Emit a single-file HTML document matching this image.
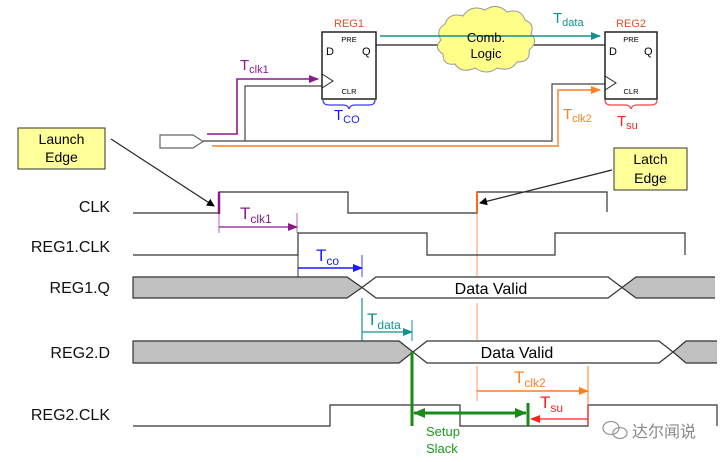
<!DOCTYPE html>
<html><head><meta charset="utf-8"><style>
html,body{margin:0;padding:0;background:#fff;}
svg{display:block;font-family:"Liberation Sans",Arial,sans-serif;}
</style></head><body>
<svg width="728" height="462" viewBox="0 0 728 462" xmlns="http://www.w3.org/2000/svg">
<defs>
<marker id="ab" markerWidth="8" markerHeight="8" refX="7" refY="4" orient="auto" markerUnits="userSpaceOnUse"><path d="M0,0 L8,4 L0,8 z" fill="#000"/></marker>
<marker id="ap" markerWidth="10" markerHeight="8" refX="9" refY="4" orient="auto" markerUnits="userSpaceOnUse"><path d="M0,0 L10,4 L0,8 z" fill="#8b1a8b"/></marker>
<marker id="at" markerWidth="10" markerHeight="8" refX="9" refY="4" orient="auto" markerUnits="userSpaceOnUse"><path d="M0,0 L10,4 L0,8 z" fill="#14918f"/></marker>
<marker id="ao" markerWidth="10" markerHeight="8" refX="9" refY="4" orient="auto" markerUnits="userSpaceOnUse"><path d="M0,0 L10,4 L0,8 z" fill="#ff7f1e"/></marker>
<marker id="ab2" markerWidth="10" markerHeight="8" refX="9" refY="4" orient="auto" markerUnits="userSpaceOnUse"><path d="M0,0 L10,4 L0,8 z" fill="#1a1aff"/></marker>
<marker id="ar" markerWidth="10" markerHeight="8" refX="9" refY="4" orient="auto" markerUnits="userSpaceOnUse"><path d="M0,0 L10,4 L0,8 z" fill="#ff2020"/></marker>
<marker id="ag" markerWidth="12" markerHeight="10" refX="11" refY="5" orient="auto" markerUnits="userSpaceOnUse"><path d="M0,0 L12,5 L0,10 z" fill="#1a8a1a"/></marker>
</defs>

<!-- circuit -->
<path d="M160,135 H193 L203,141.5 L193,148 H160 Z" fill="#fff" stroke="#666" stroke-width="1.2"/>
<polyline points="207,134 237,134 237,79 318,79" fill="none" stroke="#8b1a8b" stroke-width="1.6" marker-end="url(#ap)"/>
<polyline points="203,141 552,141 552,84 605,84" fill="none" stroke="#444" stroke-width="1.2"/>
<polyline points="245,141 245,86 322,86" fill="none" stroke="#444" stroke-width="1.2"/>
<polyline points="212,146 558,146 558,90 600,90" fill="none" stroke="#ff7f1e" stroke-width="1.4" marker-end="url(#ao)"/>

<rect x="322" y="32" width="54" height="67" fill="#fff" stroke="#222" stroke-width="1.5"/>
<polyline points="322,74 333,81 322,88" fill="none" stroke="#222" stroke-width="1"/>
<text x="349" y="27" font-size="11" fill="#e0502a" text-anchor="middle">REG1</text>
<text x="349" y="42" font-size="7.5" text-anchor="middle">PRE</text>
<text x="326" y="55" font-size="11">D</text>
<text x="362" y="55" font-size="11">Q</text>
<text x="349" y="94" font-size="7.5" text-anchor="middle">CLR</text>
<path d="M323,100 q0,5 6,5 h14 q5,0 6,4 q1,-4 6,-4 h14 q6,0 6,-5" fill="none" stroke="#3a3aff" stroke-width="1.2"/>
<text x="334" y="120" font-size="15" fill="#1a1aff">T<tspan font-size="11" dy="3">CO</tspan></text>

<rect x="605" y="32" width="52" height="67" fill="#fff" stroke="#222" stroke-width="1.5"/>
<polyline points="605,76 616,83 605,90" fill="none" stroke="#222" stroke-width="1"/>
<text x="631" y="27" font-size="11" fill="#e0502a" text-anchor="middle">REG2</text>
<text x="631" y="42" font-size="7.5" text-anchor="middle">PRE</text>
<text x="609" y="55" font-size="11">D</text>
<text x="644" y="55" font-size="11">Q</text>
<text x="631" y="94" font-size="7.5" text-anchor="middle">CLR</text>
<path d="M605,100 q0,5 6,5 h14 q5,0 6,4 q1,-4 6,-4 h14 q6,0 6,-5" fill="none" stroke="#ff4040" stroke-width="1.2"/>
<text x="617" y="126" font-size="15" fill="#ff2020">T<tspan font-size="11" dy="3">su</tspan></text>

<line x1="376" y1="45" x2="605" y2="45" stroke="#222" stroke-width="1.2"/>
<path d="M445,24 q4,-12 18,-8 q8,-12 22,-6 q12,-8 22,2 q14,-4 18,8 q10,4 6,14 q8,8 -2,16 q2,12 -12,12 q-6,10 -20,6 q-10,8 -22,0 q-14,6 -20,-4 q-12,2 -12,-10 q-10,-6 -2,-14 q-6,-10 4,-16 z" fill="#fffe88" stroke="#999" stroke-width="1"/>
<line x1="380" y1="36" x2="600" y2="36" stroke="#14918f" stroke-width="1.4" marker-end="url(#at)"/>
<text x="486" y="42" font-size="13" text-anchor="middle">Comb.</text>
<text x="486" y="58" font-size="13" text-anchor="middle">Logic</text>
<text x="553" y="23" font-size="15" fill="#14918f">T<tspan font-size="11" dy="3">data</tspan></text>
<text x="240" y="70" font-size="15" fill="#8b1a8b">T<tspan font-size="11" dy="3">clk1</tspan></text>
<text x="563" y="119" font-size="15" fill="#ff7f1e">T<tspan font-size="11" dy="3">clk2</tspan></text>

<!-- callouts -->
<rect x="18" y="128" width="87" height="41" fill="#ffff99" stroke="#333" stroke-width="1"/>
<text x="61.5" y="144" font-size="14" text-anchor="middle">Launch</text>
<text x="61.5" y="162" font-size="14" text-anchor="middle">Edge</text>
<line x1="111" y1="139" x2="214" y2="206" stroke="#222" stroke-width="1.2" marker-end="url(#ab)"/>
<rect x="614" y="148" width="73" height="42" fill="#ffff99" stroke="#333" stroke-width="1"/>
<text x="650.5" y="164" font-size="14" text-anchor="middle">Latch</text>
<text x="650.5" y="183" font-size="14" text-anchor="middle">Edge</text>
<line x1="612" y1="170" x2="480" y2="203" stroke="#222" stroke-width="1.2" marker-end="url(#ab)"/>

<!-- labels -->
<g font-size="16" text-anchor="end" fill="#111">
<text x="110" y="212">CLK</text>
<text x="110" y="252">REG1.CLK</text>
<text x="110" y="293">REG1.Q</text>
<text x="110" y="358">REG2.D</text>
<text x="110" y="420">REG2.CLK</text>
</g>

<!-- orange latch line -->
<line x1="477" y1="213" x2="477" y2="277" stroke="#ffaa77" stroke-width="1.2"/>
<line x1="477" y1="303" x2="477" y2="340" stroke="#ffaa77" stroke-width="1.2"/>
<line x1="477" y1="366" x2="477" y2="401" stroke="#ffaa77" stroke-width="1.2"/>

<!-- CLK -->
<polyline points="133,213 219,213 219,192 348,192 348,213 477,213 477,192 607,192 607,212" fill="none" stroke="#333" stroke-width="1.2"/>
<line x1="219" y1="192" x2="219" y2="214" stroke="#8b1a8b" stroke-width="2.5"/>
<line x1="477" y1="192" x2="477" y2="213" stroke="#ff6a10" stroke-width="2"/>
<line x1="219" y1="214" x2="219" y2="233" stroke="#b060b0" stroke-width="1"/>
<line x1="297" y1="213" x2="297" y2="233" stroke="#b060b0" stroke-width="1"/>
<line x1="219" y1="227" x2="297" y2="227" stroke="#8b1a8b" stroke-width="1.2" marker-end="url(#ap)"/>
<text x="240" y="219" font-size="17" fill="#8b1a8b">T<tspan font-size="12" dy="4">clk1</tspan></text>

<!-- REG1.CLK -->
<polyline points="133,255 298,255 298,233 427,233 427,255 555,255 555,233 685,233 685,255" fill="none" stroke="#333" stroke-width="1.2"/>
<line x1="298" y1="255" x2="298" y2="277" stroke="#333" stroke-width="1"/>
<line x1="362" y1="255" x2="362" y2="277" stroke="#4040ff" stroke-width="1"/>
<line x1="298" y1="268" x2="362" y2="268" stroke="#1a1aff" stroke-width="1.4" marker-end="url(#ab2)"/>
<text x="316" y="261" font-size="17" fill="#1a1aff">T<tspan font-size="12" dy="4">co</tspan></text>

<!-- REG1.Q -->
<path d="M133,277 H347 L362,287.5 L347,298 H133 Z" fill="#c0c0c0" stroke="#333" stroke-width="1.2"/>
<path d="M362,287.5 L376,277 H608 L622,287.5 L608,298 H376 Z" fill="#fff" stroke="#333" stroke-width="1.2"/>
<path d="M715,277 H636 L622,287.5 L636,298 H715" fill="#c0c0c0" stroke="#333" stroke-width="1.2"/>
<text x="491" y="294" font-size="16" text-anchor="middle">Data Valid</text>

<!-- Tdata -->
<line x1="362" y1="298" x2="362" y2="341" stroke="#14918f" stroke-width="1.2"/>
<line x1="412" y1="320" x2="412" y2="341" stroke="#14918f" stroke-width="1"/>
<line x1="362" y1="332" x2="412" y2="332" stroke="#14918f" stroke-width="1.2" marker-end="url(#at)"/>
<text x="367" y="325" font-size="17" fill="#14918f">T<tspan font-size="12" dy="4">data</tspan></text>

<!-- REG2.D -->
<path d="M133,341 H399 L413,352 L399,363 H133 Z" fill="#c0c0c0" stroke="#333" stroke-width="1.2"/>
<path d="M413,352 L427,341 H659 L673,352 L659,363 H427 Z" fill="#fff" stroke="#333" stroke-width="1.2"/>
<path d="M717,341 H686 L673,352 L686,363 H717" fill="#c0c0c0" stroke="#333" stroke-width="1.2"/>
<text x="517" y="358" font-size="16" text-anchor="middle">Data Valid</text>

<!-- Tclk2 -->
<line x1="588" y1="366" x2="588" y2="404" stroke="#ff7f1e" stroke-width="1"/>
<line x1="477" y1="391" x2="588" y2="391" stroke="#ff7f1e" stroke-width="1.4" marker-end="url(#ao)"/>
<text x="514" y="383" font-size="17" fill="#ff7f1e">T<tspan font-size="12" dy="4">clk2</tspan></text>

<!-- REG2.CLK -->
<polyline points="133,426 330,426 330,405 460,405 460,426 588,426 588,405 717,405 717,426" fill="none" stroke="#333" stroke-width="1.2"/>
<line x1="588" y1="405" x2="588" y2="426" stroke="#ff2020" stroke-width="1.2"/>
<line x1="588" y1="419" x2="531" y2="419" stroke="#ff2020" stroke-width="1.2" marker-end="url(#ar)"/>
<text x="540" y="408" font-size="17" fill="#ff2020">T<tspan font-size="12" dy="4">su</tspan></text>

<!-- setup slack -->
<line x1="412" y1="352" x2="412" y2="426" stroke="#1a8a1a" stroke-width="3"/>
<line x1="528" y1="403" x2="528" y2="426" stroke="#1a8a1a" stroke-width="3"/>
<line x1="420" y1="413" x2="526" y2="413" stroke="#1a8a1a" stroke-width="3" marker-end="url(#ag)"/>
<line x1="520" y1="413" x2="414" y2="413" stroke="#1a8a1a" stroke-width="3" marker-end="url(#ag)"/>
<text x="426" y="436" font-size="13" fill="#1a9a1a">Setup</text>
<text x="426" y="453" font-size="13" fill="#1a9a1a">Slack</text>

<!-- watermark -->
<g fill="none" stroke="#999" stroke-width="1.3">
<ellipse cx="611" cy="428" rx="8" ry="6.5"/>
<ellipse cx="620" cy="433" rx="7" ry="5.5"/>
</g>
<text x="632" y="437" font-size="16" fill="#888" font-family="'Liberation Sans','Noto Sans CJK SC',sans-serif">达尔闻说</text>
</svg>
</body></html>
